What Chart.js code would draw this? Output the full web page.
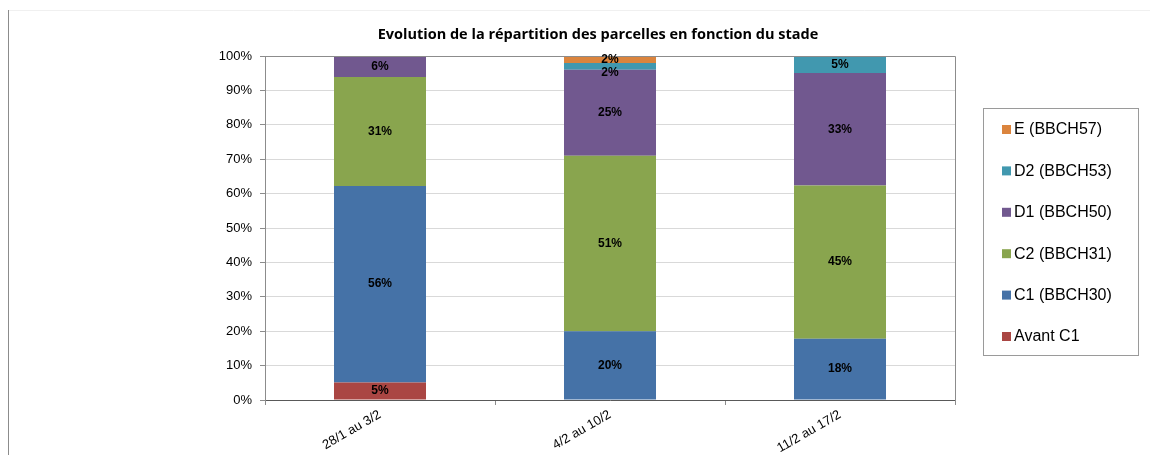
<!DOCTYPE html>
<html>
<head>
<meta charset="utf-8">
<script src="https://cdn.jsdelivr.net/npm/chart.js@4"></script>
<style>
  html, body { margin: 0; padding: 0; background: #fff; }
  #wrap { width: 1150px; height: 455px; position: relative; }
</style>
</head>
<body>
<div id="wrap"><canvas id="chart" width="1150" height="455"></canvas></div>
<script>
'use strict';

var categories = ['28/1 au 3/2', '4/2 au 10/2', '11/2 au 17/2'];
var avantC1 = [5, 0, 0];
var c1 = [56, 20, 18];
var c2 = [31, 51, 45];
var d1 = [6, 25, 33];
var d2 = [0, 2, 5];
var e = [0, 2, 0];
var yTicks = [0, 10, 20, 30, 40, 50, 60, 70, 80, 90, 100];

var series = [
  {label: 'Avant C1', values: avantC1, color: '#AA4643'},
  {label: 'C1 (BBCH30)', values: c1, color: '#4572A7'},
  {label: 'C2 (BBCH31)', values: c2, color: '#89A54E'},
  {label: 'D1 (BBCH50)', values: d1, color: '#71588F'},
  {label: 'D2 (BBCH53)', values: d2, color: '#4198AF'},
  {label: 'E (BBCH57)', values: e, color: '#DB843D'}
];

// 100% stacked: each column is scaled to its own total
var totals = categories.map(function(c, i) {
  return series.reduce(function(s, d) { return s + d.values[i]; }, 0);
});

var datasets = series.map(function(s) {
  return {
    label: s.label,
    raw: s.values,
    data: s.values.map(function(v, i) { return v ? v / totals[i] * 100 : null; }),
    backgroundColor: s.color,
    borderWidth: 0,
    barPercentage: 0.4,
    categoryPercentage: 1
  };
});

var decor = {
  id: 'decor',
  beforeDraw: function(chart) {
    var ctx = chart.ctx;
    ctx.save();
    ctx.fillStyle = '#fff';
    ctx.fillRect(0, 0, chart.width, chart.height);
    ctx.strokeStyle = '#f0f0f0';
    ctx.lineWidth = 1;
    ctx.beginPath();
    ctx.moveTo(8, 10.5);
    ctx.lineTo(chart.width, 10.5);
    ctx.stroke();
    ctx.strokeStyle = '#8c8c8c';
    ctx.beginPath();
    ctx.moveTo(8.5, 10);
    ctx.lineTo(8.5, chart.height);
    ctx.stroke();
    ctx.restore();
  },
  afterDraw: function(chart) {
    var ctx = chart.ctx;
    var a = chart.chartArea;
    ctx.save();

    // plot frame top / right
    ctx.strokeStyle = '#8c8c8c';
    ctx.lineWidth = 1;
    ctx.beginPath();
    ctx.moveTo(a.left, Math.round(a.top) + 0.5);
    ctx.lineTo(Math.round(a.right) + 0.5, Math.round(a.top) + 0.5);
    ctx.lineTo(Math.round(a.right) + 0.5, a.bottom + 5);
    ctx.stroke();

    // segment labels, top-down so small segments don't overlap
    ctx.fillStyle = '#000';
    ctx.font = 'bold 12px "Liberation Sans", Arial, sans-serif';
    ctx.textAlign = 'center';
    ctx.textBaseline = 'middle';
    var n = chart.data.datasets.length;
    chart.data.labels.forEach(function(lbl, i) {
      var lastY = -Infinity;
      for (var di = n - 1; di >= 0; di--) {
        var ds = chart.data.datasets[di];
        if (!ds.raw[i]) continue;
        var bar = chart.getDatasetMeta(di).data[i];
        var y = Math.max((bar.y + bar.base) / 2, lastY + 13);
        ctx.fillText(ds.raw[i] + '%', bar.x, y);
        lastY = y;
      }
    });

    // title
    ctx.font = 'bold 14.5px "Open Sans", "Liberation Sans", sans-serif';
    ctx.fillText('Evolution de la répartition des parcelles en fonction du stade', 598, 35);

    // legend box
    ctx.strokeStyle = '#9a9a9a';
    ctx.strokeRect(983.5, 108.5, 155, 247);
    ctx.font = '16px "Liberation Sans", Arial, sans-serif';
    ctx.textAlign = 'left';
    for (var k = 0; k < n; k++) {
      var ds = chart.data.datasets[n - 1 - k];
      var y = 129 + k * 41.4;
      ctx.fillStyle = ds.backgroundColor;
      ctx.fillRect(1002, y - 4, 9, 9);
      ctx.fillStyle = '#000';
      ctx.fillText(ds.label, 1014, y + 1);
    }
    ctx.restore();
  }
};

new Chart(document.getElementById('chart').getContext('2d'), {
  type: 'bar',
  data: {labels: categories, datasets: datasets},
  options: {
    responsive: false,
    animation: false,
    layout: {padding: {top: 56, right: 195, left: 0, bottom: 0}},
    plugins: {legend: {display: false}, tooltip: {enabled: false}, title: {display: false}},
    scales: {
      x: {
        stacked: true,
        afterFit: function(s) { s.height = 55; },
        grid: {drawOnChartArea: false, tickLength: 5, tickColor: '#8c8c8c', offset: true},
        border: {color: '#595959'},
        ticks: {
          color: '#000',
          font: {family: '"Liberation Sans", Arial, sans-serif', size: 13},
          minRotation: 30,
          maxRotation: 30,
          padding: 2
        }
      },
      y: {
        stacked: true,
        min: 0,
        max: 100,
        afterFit: function(s) { s.width = 265; },
        afterBuildTicks: function(s) { s.ticks = yTicks.map(function(v) { return {value: v}; }); },
        grid: {color: '#d9d9d9', tickLength: 5, tickColor: '#8c8c8c'},
        border: {color: '#8c8c8c'},
        ticks: {
          color: '#000',
          padding: 8,
          font: {family: '"Liberation Sans", Arial, sans-serif', size: 13},
          callback: function(v) { return v + '%'; }
        }
      }
    }
  },
  plugins: [decor]
});
</script>
</body>
</html>
